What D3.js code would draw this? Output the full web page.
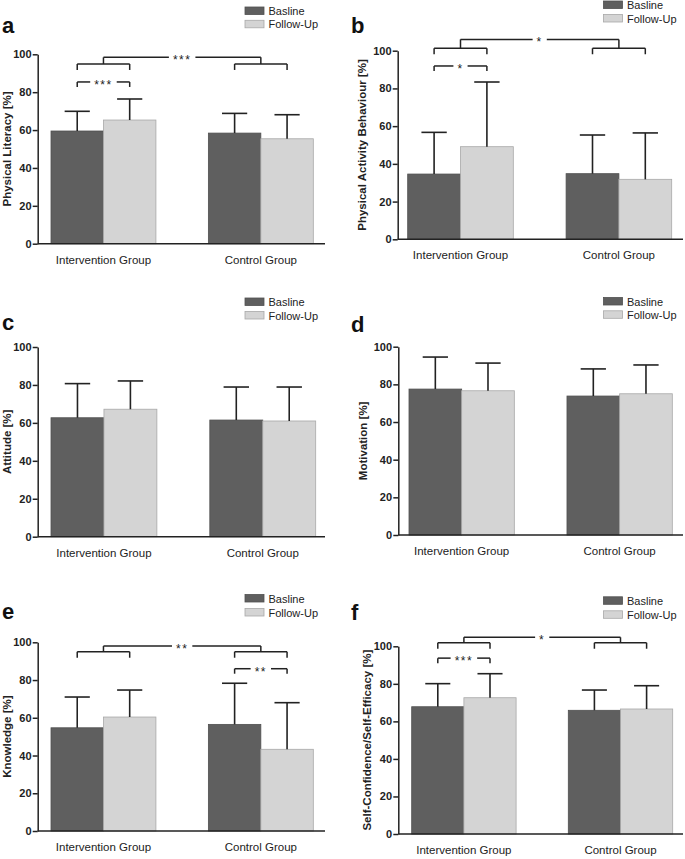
<!DOCTYPE html>
<html>
<head>
<meta charset="utf-8">
<script src="https://cdn.jsdelivr.net/npm/d3@7/dist/d3.min.js"></script>
<style>
  html, body { margin: 0; padding: 0; background: #fff; }
  svg { display: block; font-family: "Liberation Sans", Arial, sans-serif; }
</style>
</head>
<body>
<svg id="chart" width="685" height="859"></svg>
<script>
// ---------- DATA ----------
const groups = ["Intervention Group", "Control Group"];
const series = ["Basline", "Follow-Up"];
const yTicks = [0, 20, 40, 60, 80, 100];
const panelIds = ["a", "b", "c", "d", "e", "f"];
const yTitles = [
  "Physical Literacy [%]",
  "Physical Activity Behaviour [%]",
  "Attitude [%]",
  "Motivation [%]",
  "Knowledge [%]",
  "Self-Confidence/Self-Efficacy [%]"
];
// means per panel: [Intervention, Control]
const baselineMean = [[59.5, 58.4], [34.6, 34.8], [62.7, 61.5], [77.5, 73.8], [54.7, 56.5], [67.8, 65.9]];
const followUpMean = [[65.3, 55.4], [49.1, 31.8], [67.2, 61.0], [76.6, 75.0], [60.4, 43.3], [72.6, 66.6]];
// standard deviations per panel: [Intervention, Control]
const baselineSD = [[10.4, 10.4], [22.1, 20.5], [18.0, 17.4], [17.0, 14.4], [16.3, 21.8], [12.3, 10.8]];
const followUpSD = [[11.1, 12.7], [34.3, 24.6], [14.9, 17.9], [14.7, 15.3], [14.3, 24.7], [12.8, 12.4]];
// significance: within-group (Basline vs Follow-Up)
const withinPanel = ["a", "b", "e", "f"];
const withinGroup = ["Intervention Group", "Intervention Group", "Control Group", "Intervention Group"];
const withinLabel = ["***", "*", "**", "***"];
const withinLevel = [85.4, 91.9, 86.0, 93.7];
// significance: between groups (group x time)
const betweenPanel = ["a", "b", "e", "f"];
const betweenLabel = ["***", "*", "**", "*"];
const betweenLevel = [94.9, 101.3, 95.0, 101.9];
const betweenTop = [98.4, 106.0, 98.0, 104.8];

// ---------- LAYOUT ----------
const layout = {
  a: {ax: 37.7, axEnd: 325, bx0: 51,    bx1: 313.3, yTop: 54.3,  yBot: 243.7, letterX: 2,   letterY: 33,    titleX: 7,     legX: 245,   legY: [14.5, 27.8]},
  b: {ax: 397.7, axEnd: 683, bx0: 407.7, bx1: 671.7, yTop: 50.7,  yBot: 239.3, letterX: 351, letterY: 33,    titleX: 361.7, legX: 603.5, legY: [8.5, 22]},
  c: {ax: 37.7, axEnd: 325, bx0: 51,    bx1: 315.7, yTop: 347,   yBot: 536.7, letterX: 2,   letterY: 330,   titleX: 6.7,   legX: 245,   legY: [305.5, 319]},
  d: {ax: 398.3, axEnd: 683, bx0: 409,   bx1: 672.3, yTop: 346.7, yBot: 535,   letterX: 351, letterY: 331.5, titleX: 362.5, legX: 603.5, legY: [305, 318.3]},
  e: {ax: 37.7, axEnd: 325, bx0: 51,    bx1: 313.3, yTop: 642.3, yBot: 831,   letterX: 2,   letterY: 619.3, titleX: 6.7,   legX: 245,   legY: [602, 616]},
  f: {ax: 398.3, axEnd: 683, bx0: 411.7, bx1: 672.7, yTop: 646.3, yBot: 834,   letterX: 351, letterY: 620,   titleX: 366.7, legX: 603.5, legY: [604.3, 618.3]}
};

const INK = "#222";
const fills = {"Basline": "#5f5f5f", "Follow-Up": "#d4d4d4"};
const strokes = {"Basline": "#505050", "Follow-Up": "#a8a8a8"};

const svg = d3.select("#chart");

function gapLine(g, x1, x2, y, label, fs) {
  const mid = (x1 + x2) / 2;
  const t = g.append("text")
    .attr("x", mid).attr("y", y + 6.8)
    .attr("text-anchor", "middle")
    .attr("font-size", fs).attr("letter-spacing", 1.5)
    .attr("fill", INK)
    .text(label);
  const w = t.node().getComputedTextLength();
  const half = w / 2 + 4;
  g.append("line").attr("x1", x1).attr("x2", mid - half).attr("y1", y).attr("y2", y);
  g.append("line").attr("x1", mid + half).attr("x2", x2).attr("y1", y).attr("y2", y);
}

panelIds.forEach((pid, pi) => {
  const L = layout[pid];
  const g = svg.append("g").attr("class", "panel-" + pid);

  const y = d3.scaleLinear().domain([0, 100]).range([L.yBot, L.yTop]);
  const x0 = d3.scaleBand().domain(groups).range([L.bx0, L.bx1]).paddingInner(1 / 3).paddingOuter(0);
  const x1 = d3.scaleBand().domain(series).range([0, x0.bandwidth()]).padding(0);

  const rows = [];
  groups.forEach((grp, gi) => {
    rows.push({group: grp, series: "Basline", mean: baselineMean[pi][gi], sd: baselineSD[pi][gi]});
    rows.push({group: grp, series: "Follow-Up", mean: followUpMean[pi][gi], sd: followUpSD[pi][gi]});
  });
  const cx = d => x0(d.group) + x1(d.series) + x1.bandwidth() / 2;

  // bars
  g.append("g").selectAll("rect").data(rows).join("rect")
    .attr("x", d => x0(d.group) + x1(d.series))
    .attr("y", d => y(d.mean))
    .attr("width", x1.bandwidth())
    .attr("height", d => y(0) - y(d.mean))
    .attr("fill", d => fills[d.series])
    .attr("stroke", d => strokes[d.series])
    .attr("stroke-width", 0.8);

  // error bars
  const eg = g.append("g").attr("stroke", INK).attr("stroke-width", 1.6).attr("fill", "none");
  const capHalf = x1.bandwidth() * 0.24;
  rows.forEach(d => {
    eg.append("line").attr("x1", cx(d)).attr("x2", cx(d)).attr("y1", y(d.mean)).attr("y2", y(d.mean + d.sd));
    eg.append("line").attr("x1", cx(d) - capHalf).attr("x2", cx(d) + capHalf).attr("y1", y(d.mean + d.sd)).attr("y2", y(d.mean + d.sd));
  });

  // y axis
  const yAxis = g.append("g").attr("transform", `translate(${L.ax},0)`)
    .call(d3.axisLeft(y).tickValues(yTicks).tickSize(5).tickPadding(1.2).tickSizeOuter(0));
  yAxis.select(".domain").attr("stroke", INK).attr("stroke-width", 1.5);
  yAxis.selectAll(".tick line").attr("stroke", INK).attr("stroke-width", 1.5);
  yAxis.selectAll(".tick text").attr("font-size", 11).attr("font-weight", "bold")
    .attr("font-family", "'Liberation Sans', Arial, sans-serif").attr("fill", INK);

  // x axis baseline
  g.append("line").attr("x1", L.ax).attr("x2", L.axEnd).attr("y1", y(0)).attr("y2", y(0))
    .attr("stroke", INK).attr("stroke-width", 1.5);

  // x labels
  g.append("g").selectAll("text").data(groups).join("text")
    .attr("x", d => x0(d) + x0.bandwidth() / 2)
    .attr("y", y(0) + 20)
    .attr("text-anchor", "middle")
    .attr("font-size", 11.5)
    .attr("fill", INK)
    .text(d => d);

  // y title
  g.append("text")
    .attr("transform", `translate(${L.titleX},${(L.yTop + L.yBot) / 2}) rotate(-90)`)
    .attr("text-anchor", "middle")
    .attr("dominant-baseline", "central")
    .attr("font-size", 11.5).attr("font-weight", "bold")
    .attr("fill", INK)
    .text(yTitles[pi]);

  // panel letter
  g.append("text").attr("x", L.letterX).attr("y", L.letterY)
    .attr("font-size", 22).attr("font-weight", "bold").attr("fill", "#111")
    .text(pid);

  // legend
  const lg = g.append("g");
  series.forEach((s, si) => {
    lg.append("rect").attr("x", L.legX).attr("y", L.legY[si] - 7.5)
      .attr("width", 19).attr("height", 7.5)
      .attr("fill", fills[s]).attr("stroke", strokes[s]).attr("stroke-width", 0.8);
    lg.append("text").attr("x", L.legX + 23.5).attr("y", L.legY[si] + 0.5)
      .attr("font-size", 11).attr("fill", INK).text(s);
  });

  // significance brackets
  const sg = g.append("g").attr("stroke", INK).attr("stroke-width", 1.5).attr("fill", "none");
  withinPanel.forEach((wp, wi) => {
    if (wp !== pid) return;
    const grp = withinGroup[wi];
    const xa = x0(grp) + x1("Basline") + x1.bandwidth() / 2;
    const xb = x0(grp) + x1("Follow-Up") + x1.bandwidth() / 2;
    const ly = y(withinLevel[wi]);
    const bg = sg.append("g");
    bg.append("line").attr("x1", xa).attr("x2", xa).attr("y1", ly).attr("y2", ly + 5);
    bg.append("line").attr("x1", xb).attr("x2", xb).attr("y1", ly).attr("y2", ly + 5);
    gapLine(bg, xa, xb, ly, withinLabel[wi], 12);
  });
  betweenPanel.forEach((bp, bi) => {
    if (bp !== pid) return;
    const ly = y(betweenLevel[bi]);
    const ty = y(betweenTop[bi]);
    const mids = [];
    groups.forEach(grp => {
      const xa = x0(grp) + x1("Basline") + x1.bandwidth() / 2;
      const xb = x0(grp) + x1("Follow-Up") + x1.bandwidth() / 2;
      const xm = x0(grp) + x0.bandwidth() / 2;
      mids.push(xm);
      sg.append("line").attr("x1", xa).attr("x2", xb).attr("y1", ly).attr("y2", ly);
      sg.append("line").attr("x1", xa).attr("x2", xa).attr("y1", ly).attr("y2", ly + 6);
      sg.append("line").attr("x1", xb).attr("x2", xb).attr("y1", ly).attr("y2", ly + 6);
      sg.append("line").attr("x1", xm).attr("x2", xm).attr("y1", ly).attr("y2", ty);
    });
    gapLine(sg, mids[0], mids[1], ty, betweenLabel[bi], 12);
  });
});
// texts inside stroke groups should not be stroked
d3.selectAll("g[stroke] text").attr("stroke", "none");
</script>
</body>
</html>
